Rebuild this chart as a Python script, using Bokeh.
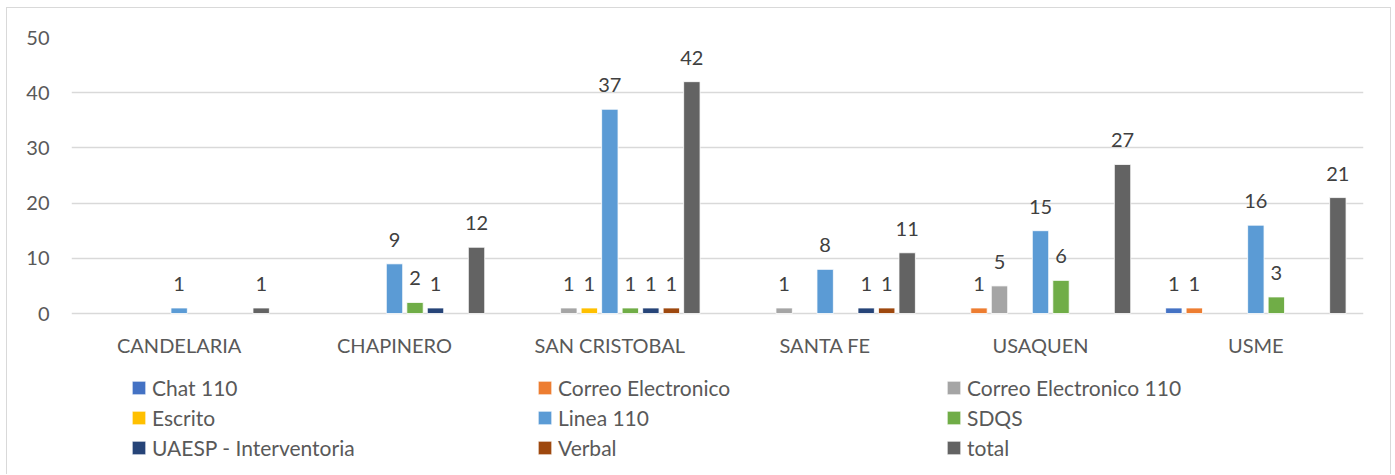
from bokeh.plotting import figure
from bokeh.models import ColumnDataSource, Range1d, FixedTicker, LabelSet, Legend, LegendItem
from bokeh.core.properties import value
from bokeh.transform import dodge
from bokeh.embed import file_html
from bokeh.resources import INLINE

categories = ["CANDELARIA", "CHAPINERO", "SAN CRISTOBAL", "SANTA FE", "USAQUEN", "USME"]
series_names = ["Chat 110", "Correo Electronico", "Correo Electronico 110", "Escrito",
                "Linea 110", "SDQS", "UAESP - Interventoria", "Verbal", "total"]
chat_110 = [0, 0, 0, 0, 0, 1]
correo_electronico = [0, 0, 0, 0, 1, 1]
correo_electronico_110 = [0, 0, 1, 1, 5, 0]
escrito = [0, 0, 1, 0, 0, 0]
linea_110 = [1, 9, 37, 8, 15, 16]
sdqs = [0, 2, 1, 0, 6, 3]
uaesp_interventoria = [0, 1, 1, 1, 0, 0]
verbal = [0, 0, 1, 1, 0, 0]
total = [1, 12, 42, 11, 27, 21]
series_values = [chat_110, correo_electronico, correo_electronico_110, escrito,
                 linea_110, sdqs, uaesp_interventoria, verbal, total]
series_colors = ["#4472C4", "#ED7D31", "#A5A5A5", "#FFC000", "#5B9BD5",
                 "#70AD47", "#264478", "#9E480E", "#636363"]
y_ticks = [0, 10, 20, 30, 40, 50]

FONT = "Lato"
TXT = "#595959"

# frame: value 50 at top, value 0 at 276px below; frame continues down to hold axis labels and legend
PX_PER_UNIT = 276 / 50
Y_BOTTOM = -(475 - 313) / PX_PER_UNIT

p = figure(x_range=categories, y_range=Range1d(Y_BOTTOM, 50), width=1385, height=467,
           output_backend="svg", toolbar_location=None,
           min_border_left=64, min_border_right=29, min_border_top=29, min_border_bottom=0,
           styles={"margin-left": "6px", "margin-top": "7px",
                   "border-top": "1px solid #D9D9D9", "border-left": "1px solid #D9D9D9",
                   "border-right": "1px solid #D9D9D9"})
p.outline_line_color = None
p.xgrid.grid_line_color = None
p.xaxis.visible = False
p.ygrid.grid_line_color = "#D9D9D9"
p.ygrid.grid_line_width = 1.3
p.yaxis.ticker = FixedTicker(ticks=y_ticks)
p.ygrid.ticker = FixedTicker(ticks=y_ticks)
p.yaxis.axis_line_color = None
p.yaxis.major_tick_line_color = None
p.yaxis.minor_tick_line_color = None
p.yaxis.major_tick_out = 0
p.yaxis.major_tick_in = 0
p.yaxis.major_label_standoff = 22
p.yaxis.major_label_text_font = FONT
p.yaxis.major_label_text_font_size = "20px"
p.yaxis.major_label_text_color = TXT

# category labels under the zero line
cat_src = ColumnDataSource(dict(x=categories, y=[-31 / PX_PER_UNIT] * len(categories), t=categories))
p.text(x="x", y="y", text="t", source=cat_src, text_align="center", text_baseline="middle",
       text_font=value(FONT), text_font_size="20px", text_color=TXT)

slot = 0.857 / 9
bw = slot * 0.8
renderers = []
for i, (name, vals, col) in enumerate(zip(series_names, series_values, series_colors)):
    xs = [c for c, v in zip(categories, vals) if v > 0]
    ys = [v for v in vals if v > 0]
    src = ColumnDataSource(dict(x=xs, y=ys, label=[str(v) for v in ys]))
    off = (i - 4) * slot
    r = p.vbar(x=dodge("x", off, range=p.x_range), top="y", width=bw, source=src,
               fill_color=col, line_color="white", line_width=0.8)
    renderers.append(r)
    labels = LabelSet(x=dodge("x", off, range=p.x_range), y="y", text="label", source=src,
                      text_align="center", text_baseline="alphabetic", y_offset=17,
                      text_font=value(FONT), text_font_size="20px", text_color="#404040")
    p.add_layout(labels)

col_x = [59, 465, 874]
for c in range(3):
    items = [LegendItem(label=series_names[c + 3 * r], renderers=[renderers[c + 3 * r]]) for r in range(3)]
    lg = Legend(items=items, location=(col_x[c], 14), orientation="vertical",
                glyph_width=17, glyph_height=17, label_standoff=5, padding=0, margin=0,
                spacing=2, label_height=28, border_line_color=None, background_fill_alpha=0,
                label_text_font=FONT, label_text_font_size="21px", label_text_color=TXT,
                label_text_baseline="middle")
    p.add_layout(lg, "center")

open("out.html", "w").write(file_html(p, INLINE))
